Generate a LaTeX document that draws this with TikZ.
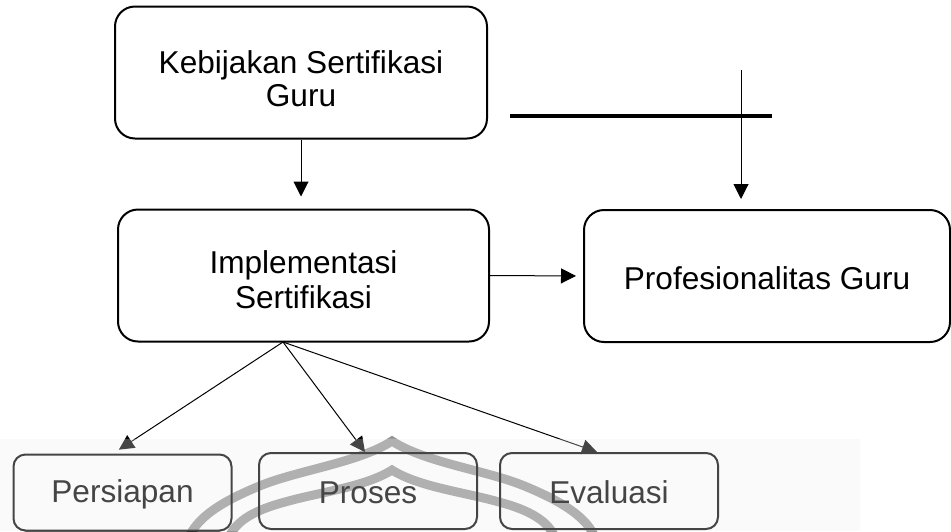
\documentclass[tikz,border=0pt]{standalone}
\usepackage{fontspec}
\setmainfont{Liberation Sans}
\usetikzlibrary{arrows.meta, positioning, calc}
\definecolor{markgray}{HTML}{979797}
\definecolor{veilgray}{HTML}{EEEEEE}
\newcommand{\topbox}[4]{%
  \node[draw, line width=1pt, rounded corners=10pt, minimum width=#4,
        minimum height=66pt, align=center, inner sep=0pt] (#1) at (#2) {#3};}
\newcommand{\subbox}[3]{%
  \node[draw, line width=1pt, rounded corners=6pt, minimum width=109pt,
        minimum height=38pt, align=center, inner sep=0pt] (#1) at (#2) {#3};}
\newcommand{\lift}[1]{\rule{0pt}{#1}}

\begin{document}
\begin{tikzpicture}[x=0.5pt, y=-0.5pt, font=\fontsize{15.8pt}{16.5pt}\selectfont]
  \useasboundingbox (0,0) rectangle (951,531);
  % watermark arch behind the lower boxes
  \draw[markgray, line width=4.5pt]
    (190,535) .. controls (200,515) and (225,500) .. (262,485)
              .. controls (300,470) and (360,462) .. (392,441)
              .. controls (424,462) and (484,470) .. (522,485)
              .. controls (559,500) and (584,515) .. (594,535);
  \draw[markgray, line width=4.5pt]
    (230,535) .. controls (238,520) and (255,510) .. (285,502)
              .. controls (320,492) and (365,487) .. (392,470)
              .. controls (419,487) and (464,492) .. (499,502)
              .. controls (529,510) and (546,520) .. (554,535);
  \topbox{kebijakan}{301,72.5}{\lift{17.5pt}Kebijakan Sertifikasi\\Guru}{186pt}
  \topbox{implementasi}{303.5,275.5}{\lift{15.5pt}Implementasi\\[1pt]Sertifikasi}{185.5pt}
  \topbox{profesi}{767,276}{\lift{13.5pt}Profesionalitas Guru}{183pt}
  \subbox{persiapan}{122.5,492.5}{\lift{13pt}Persiapan}
  \subbox{proses}{368,491}{\lift{13pt}Proses}
  \subbox{evaluasi}{609,491}{\lift{13pt}Evaluasi}
  \coordinate (fan) at (283,342);
  \coordinate (src) at (741,70);
  \draw[-{Triangle[length=7.5pt, width=7.5pt]}, line width=0.5pt, shorten >=6pt]
    (kebijakan.south) -- (kebijakan.south |- implementasi.north);
  \draw[-{Triangle[length=7.5pt, width=7.5pt]}, line width=0.5pt, shorten >=3.5pt]
    (implementasi.east) -- (profesi.west);
  \draw[line width=1.75pt] (510,116) -- (772,116);
  \draw[-{Triangle[length=7.5pt, width=7.5pt]}, line width=0.5pt, shorten >=5pt]
    (src) -- (src |- profesi.north);
  \draw[-{Triangle[length=7.5pt, width=7.5pt]}, line width=0.5pt, shorten >=3.5pt]
    (fan) -- ([xshift=-4.75pt]persiapan.north);
  \draw[-{Triangle[length=7.5pt, width=7.5pt]}, line width=0.5pt]
    (fan) -- ([xshift=-1.5pt]proses.north);
  \draw[-{Triangle[length=7.5pt, width=7.5pt]}, line width=0.5pt]
    (fan) -- ([xshift=-6pt]evaluasi.north);
  % faded strip along the bottom
  \fill[veilgray, opacity=0.29] (0,439) rectangle (860,531);
\end{tikzpicture}
\end{document}
